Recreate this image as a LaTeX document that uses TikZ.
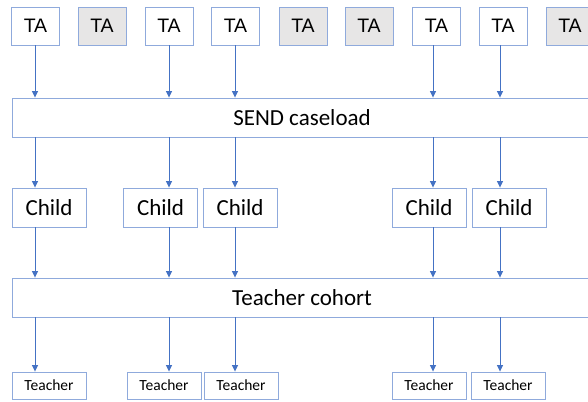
\documentclass[tikz,border=0pt]{standalone}
\usepackage{fontspec}
\setmainfont{Carlito}
\newfontfamily\tafont{Liberation Sans}
\usetikzlibrary{arrows.meta}
\definecolor{boxline}{RGB}{143,170,220}
\definecolor{arrline}{RGB}{68,114,196}
\definecolor{taoff}{RGB}{231,230,230}
\begin{document}
\begin{tikzpicture}[x=1pt,y=-1pt,
  box/.style={draw=boxline,line width=0.9pt,fill=white,inner sep=0pt,anchor=center},
  tabox/.style={box,minimum width=48,minimum height=38,font=\tafont\fontsize{19.5}{21}\selectfont},
  taidle/.style={tabox,fill=taoff},
  bar/.style={box,minimum width=580,minimum height=39,font=\fontsize{23}{26}\selectfont},
  childbox/.style={box,minimum width=74,minimum height=39,font=\fontsize{23}{26}\selectfont},
  teachbox/.style={box,minimum width=74,minimum height=27,font=\fontsize{15.5}{17}\selectfont},
  arr/.style={draw=arrline,line width=0.8pt,-{Triangle[width=6pt,length=6.5pt]}}]
\useasboundingbox (0,0) rectangle (588,401);
\clip (0,0) rectangle (588,401);
\fill[white] (0,0) rectangle (588,401);

% arrow columns
\coordinate (c1) at (35,0);
\coordinate (c2) at (169,0);
\coordinate (c3) at (235,0);
\coordinate (c4) at (433,0);
\coordinate (c5) at (500,0);

% teaching assistants
\node[tabox]  (ta1) at (35.5,26) {TA};
\node[taidle] (ta2) at (102,26) {TA};
\node[tabox]  (ta3) at (169,26) {TA};
\node[tabox]  (ta4) at (235.5,26) {TA};
\node[taidle] (ta5) at (303,26) {TA};
\node[taidle] (ta6) at (369,26) {TA};
\node[tabox]  (ta7) at (436.5,26) {TA};
\node[tabox]  (ta8) at (503,26) {TA};
\node[taidle] (ta9) at (570,26) {TA};

% shared layers
\node[bar] (send) at (302,117.5) {SEND caseload};
\node[bar] (cohort) at (302,297.5) {Teacher cohort};

% children
\node[childbox] (ch1) at (49,207.5) {Child};
\node[childbox] (ch2) at (160.5,207.5) {Child};
\node[childbox] (ch3) at (240,207.5) {Child};
\node[childbox] (ch4) at (429,207.5) {Child};
\node[childbox] (ch5) at (509,207.5) {Child};

% teachers
\node[teachbox] (te1) at (49,385.5) {Teacher};
\node[teachbox] (te2) at (164,385.5) {Teacher};
\node[teachbox] (te3) at (241,385.5) {Teacher};
\node[teachbox] (te4) at (429,385.5) {Teacher};
\node[teachbox] (te5) at (508,385.5) {Teacher};

% connectors
\foreach \t/\c/\k/\e in {ta1/c1/ch1/te1, ta3/c2/ch2/te2, ta4/c3/ch3/te3, ta7/c4/ch4/te4, ta8/c5/ch5/te5}{
  \draw[arr] (\t.south -| \c) -- (send.north -| \c);
  \draw[arr] (send.south -| \c) -- (\k.north -| \c);
  \draw[arr] (\k.south -| \c) -- (cohort.north -| \c);
  \draw[arr] (cohort.south -| \c) -- (\e.north -| \c);
}
\end{tikzpicture}
\end{document}
